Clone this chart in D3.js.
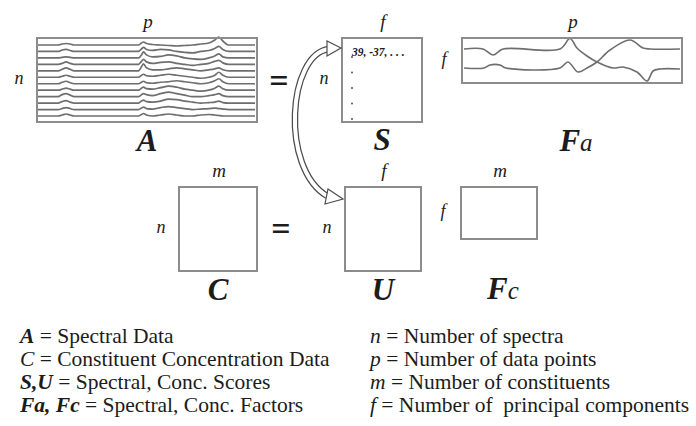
<!DOCTYPE html>
<html>
<head>
<meta charset="utf-8">
<script src="https://cdn.jsdelivr.net/npm/d3@7"></script>
<style>
  body { margin: 0; background: #fff; }
  svg text { font-family: "Liberation Serif", "Times New Roman", serif; fill: #1c1c1c; }
</style>
</head>
<body>
<svg id="chart" width="696" height="426"></svg>
<script>
// spectra matrix A: channel positions and heights for each spectrum
const specX = [0, 20, 24, 28, 32, 36, 100, 103, 105, 108, 114, 122, 130, 138, 146, 154, 162, 170, 176, 180, 184, 190, 216];
const spectra = [
  [0, 0, 1, 1.5, 1, 0, 0, 2, 3, 1.5, 0.5, 0, -0.5, -1, -0.5, 0, 1, 2, 5, 8, 4, 0, 0],
  [0, 0, 1.5, 2, 1, 0, 0, 2.5, 4, 2, 1, 2, 1.5, 0, -1, -1.5, 0, 1, 3, 5, 2, 0, 0],
  [0, 0, 0.5, 1, 0.5, 0, 0, 3, 6, 3, 1, 1.5, 3, 2, 0, -1, -1.5, 0, 2, 4, 1, 0, 0],
  [0, 0, 1, 2.5, 1, 0, 0, 3, 5, 2.5, 1, 2, 2.5, 1, 0, -1, 0, 1, 3, 4, 1.5, 0, 0],
  [0, 0, 1.5, 3, 1.5, 0, 0, 4, 7, 3, 1, 1, 2, 3, 2, 1, 0, 1, 2, 3, 1, 0, 0],
  [0, 0, 1, 2, 1, 0, 0, 2, 3, 1.5, 1, 2, 3, 2, 1, 0, -1, 0, 2, 5, 2, 0, 0],
  [0, 0, 1.5, 2.5, 1, 0, 0, 1.5, 2.5, 1, 0.5, 1.5, 2, 3, 2, 1, 0, 1, 3, 5, 2, 0, 0],
  [0, 0, 1, 2, 1, 0, 0, 2, 3, 1.5, 1, 2.5, 4, 3, 1, 0, -1, 0, 2, 4, 1.5, 0, 0],
  [0, 0, 2, 3, 1.5, 0, 0, 2, 3, 2, 1, 3, 4.5, 3, 1.5, 0, 0, 1, 2, 3, 1, 0, 0],
  [0, 0, 1.5, 2.5, 1, 0, 0, 2, 3, 1.5, 1, 2, 4, 3.5, 2, 1, 0, 0.5, 1, 2, 0.5, 0, 0],
  [0, 0, 1, 2, 1, 0, 0, 1.5, 2.5, 1, 0.5, 2, 3, 2, 1, 0, 0.5, 1, 1.5, 1, 0.5, 0, 0],
  [0, 0, 1, 2, 1, 0, 0, 1.5, 2.5, 1, 0, 1, 2, 1, 0, 0, 1, 1.5, 1, 0.5, 0, 0, 0]
];

// factor matrix Fa: two loading curves [channel, level from top]
const faLine1 = [[0, 11], [19, 11], [29, 17], [39, 11], [96, 11], [106, 0.5], [113, 10], [123, 18], [133, 24], [149, 30], [159, 29], [173, 34], [183, 43], [189, 33], [196, 31], [216, 31]];
const faLine2 = [[0, 30], [20, 30], [26, 27], [36, 27], [42, 30], [96, 30], [104, 24], [114, 34], [123, 30], [133, 24], [146, 12], [166, 2], [179, 10], [186, 11], [216, 11]];

const scoreRow = "39, -37, . . .";

const legendLeft = [
  [["A", "bi"], [" = Spectral Data", ""]],
  [["C", "i"], [" = Constituent Concentration Data", ""]],
  [["S,U", "bi"], [" = Spectral, Conc. Scores", ""]],
  [["Fa, Fc", "bi"], [" = Spectral, Conc. Factors", ""]]
];
const legendRight = [
  [["n", "i"], [" = Number of spectra", ""]],
  [["p", "i"], [" = Number of data points", ""]],
  [["m", "i"], [" = Number of constituents", ""]],
  [["f", "i"], [" = Number of  principal components", ""]]
];

// layout of the matrices
const boxes = [
  { id: "A", x: 37, y: 38, w: 220, h: 84, top: "p", side: "n", name: "A", sub: "" },
  { id: "S", x: 342, y: 38, w: 80, h: 84, top: "f", side: "n", name: "S", sub: "" },
  { id: "Fa", x: 462, y: 38, w: 220, h: 45, top: "p", side: "f", name: "F", sub: "a" },
  { id: "C", x: 179, y: 187, w: 78, h: 84, top: "m", side: "n", name: "C", sub: "" },
  { id: "U", x: 345, y: 187, w: 76, h: 84, top: "f", side: "n", name: "U", sub: "" },
  { id: "Fc", x: 461, y: 187, w: 76, h: 52, top: "m", side: "f", name: "F", sub: "c" }
];
const nameY = { A: 151, S: 150, Fa: 151, C: 300, U: 300, Fc: 299 };

const svg = d3.select("#chart");
const boxColor = "#8c8c8c", lineColor = "#6e6e6e";

// spectra in A
const A = boxes[0];
const xA = d3.scaleLinear().domain([0, 216]).range([A.x + 1, A.x + A.w - 2]);
const rowA = d3.scaleLinear().domain([0, spectra.length - 1]).range([A.y + 7, A.y + A.h - 6]);
const ampA = d3.scaleLinear().domain([0, 10]).range([0, -10]);

svg.append("g").selectAll("path")
  .data(spectra)
  .join("path")
  .attr("fill", "none")
  .attr("stroke", lineColor)
  .attr("stroke-width", 1.7)
  .attr("d", (row, i) => d3.line()
    .x((v, j) => xA(specX[j]))
    .y(v => rowA(i) + ampA(v))
    .curve(d3.curveMonotoneX)(row));

// loadings in Fa
const Fa = boxes[2];
const xF = d3.scaleLinear().domain([0, 216]).range([Fa.x + 2, Fa.x + Fa.w - 2]);
const yF = d3.scaleLinear().domain([0, 45]).range([Fa.y, Fa.y + Fa.h]);
svg.append("g").selectAll("path")
  .data([faLine1, faLine2])
  .join("path")
  .attr("fill", "none")
  .attr("stroke", lineColor)
  .attr("stroke-width", 1.6)
  .attr("d", d3.line().x(d => xF(d[0])).y(d => yF(d[1])).curve(d3.curveCatmullRom.alpha(0.5)));

// boxes + labels
const bg = svg.append("g").selectAll("g").data(boxes).join("g");
bg.append("rect")
  .attr("x", d => d.x).attr("y", d => d.y)
  .attr("width", d => d.w).attr("height", d => d.h)
  .attr("fill", "none").attr("stroke", boxColor).attr("stroke-width", 2);
bg.append("text")
  .attr("x", d => d.x + d.w / 2 + 1).attr("y", d => d.y - 10)
  .attr("text-anchor", "middle").attr("font-style", "italic").attr("font-size", 19)
  .text(d => d.top);
bg.append("text")
  .attr("x", d => d.x - 18).attr("y", d => d.y + d.h / 2 + 4)
  .attr("text-anchor", "middle").attr("font-style", "italic").attr("font-size", 18)
  .text(d => d.side);
const nm = bg.append("text")
  .attr("x", d => d.x + d.w / 2 + (d.sub ? 4 : 0)).attr("y", d => nameY[d.id])
  .attr("text-anchor", "middle");
nm.append("tspan").attr("font-weight", "bold").attr("font-style", "italic").attr("font-size", 31).text(d => d.name);
nm.append("tspan").attr("font-style", "italic").attr("font-size", 25).text(d => d.sub);

// equal signs
svg.selectAll(".eq").data([[279, 92], [281, 240]]).join("text")
  .attr("class", "eq")
  .attr("x", d => d[0]).attr("y", d => d[1])
  .attr("text-anchor", "middle").attr("font-weight", "bold").attr("font-size", 34)
  .text("=");

// scores in S
const S = boxes[1];
svg.append("text")
  .attr("x", S.x + 10).attr("y", S.y + 18)
  .attr("font-size", 11.5).attr("font-weight", "bold").attr("font-style", "italic")
  .text(scoreRow);
svg.append("g").selectAll("circle").data([0, 1, 2, 3, 4]).join("circle")
  .attr("cx", S.x + 10).attr("cy", d => S.y + 19 + d * 15.5)
  .attr("r", 1).attr("fill", "#555");

// double headed hollow arrow between S and U
const arrow = d3.path();
arrow.moveTo(329, 49);
arrow.bezierCurveTo(288, 54, 280, 168, 327, 196);
svg.append("path").attr("d", arrow.toString()).attr("fill", "none").attr("stroke", "#4d4d4d").attr("stroke-width", 6.5);
svg.append("path").attr("d", arrow.toString()).attr("fill", "none").attr("stroke", "#fff").attr("stroke-width", 4);
const heads = [[[341, 48], [327, 41], [327, 56]], [[343, 199], [328, 189], [325, 204]]];
svg.selectAll(".head").data(heads).join("path")
  .attr("class", "head")
  .attr("d", d => "M" + d.join("L") + "Z")
  .attr("fill", "#fff").attr("stroke", "#4d4d4d").attr("stroke-width", 1.2);

// legend
function legend(rows, x0) {
  const t = svg.append("g").selectAll("text").data(rows).join("text")
    .attr("x", x0).attr("y", (d, i) => 343 + i * 23)
    .attr("font-size", 21.5);
  t.selectAll("tspan").data(d => d).join("tspan")
    .attr("font-weight", d => d[1] === "bi" ? "bold" : null)
    .attr("font-style", d => d[1] ? "italic" : null)
    .attr("xml:space", "preserve")
    .text(d => d[0]);
}
legend(legendLeft, 20);
legend(legendRight, 370);
</script>
</body>
</html>
